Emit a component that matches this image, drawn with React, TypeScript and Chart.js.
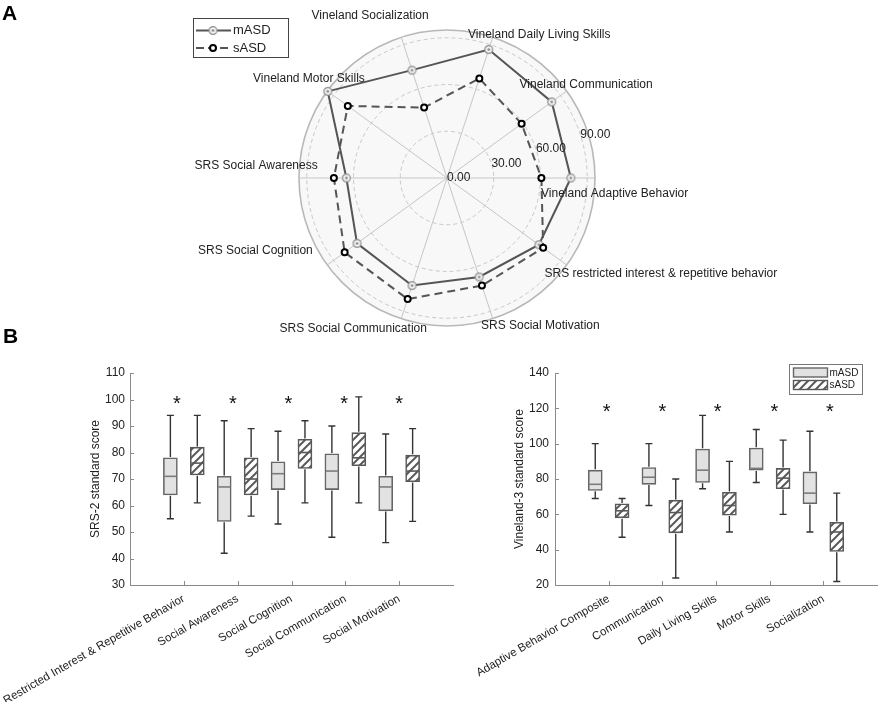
import React, { useEffect, useRef } from 'react';
import { Chart, registerables } from 'chart.js';

Chart.register(...registerables);

const FONT = '"Liberation Sans", Arial, Helvetica, sans-serif';
const TXT = '#222222';
const AXIS = '#8a8a8a';

// ---------- Panel A: radar (clockwise from the right-hand spoke) ----------
const radarAxes = [
  'Vineland Adaptive Behavior',
  'SRS restricted interest & repetitive behavior',
  'SRS Social Motivation',
  'SRS Social Communication',
  'SRS Social Cognition',
  'SRS Social Awareness',
  'Vineland Motor Skills',
  'Vineland Socialization',
  'Vineland Daily Living Skills',
  'Vineland Communication',
];
const radarMASD = [79.5, 72.9, 66.8, 72.6, 71.4, 64.6, 94.6, 72.8, 86.7, 83.1];
const radarSASD = [60.6, 76.3, 72.6, 81.7, 81.2, 72.6, 78.7, 47.5, 67.2, 59.2];
const radarRings = [0, 30, 60, 90];
const radarMax = 95;

// label layout (pixel offsets from the radar centre, text left-aligned)
const radarLabelOffsets = [
  [94, 16], [97.5, 95.5], [34, 148], [-167.5, 151], [-249, 73],
  [-252.5, -12], [-194, -99], [-135.5, -162.5], [21, -143.5], [72.5, -93.5],
];

// ---------- Panel B left: SRS-2 ----------
const srsCategories = [
  'Restricted Interest & Repetitive Behavior',
  'Social Awareness',
  'Social Cognition',
  'Social Communication',
  'Social Motivation',
];
// [min, q1, median, q3, max]
const srsMASD = [
  [55, 64, 71, 78, 94],
  [42, 54, 67, 71, 92],
  [53, 66, 72, 76.5, 88],
  [48, 66, 73, 79.5, 90],
  [46, 58, 67, 71, 87],
];
const srsSASD = [
  [61, 71.5, 76, 82, 94],
  [56, 64, 70, 78, 89],
  [61, 74, 80, 85, 92],
  [61, 75, 78, 87.5, 101],
  [54, 69, 73, 79, 89],
];
const srsSigX = [0.87, 1.91, 2.94, 3.98, 5.0];
const srsSigY = 100;

// ---------- Panel B right: Vineland-3 ----------
const vinCategories = [
  'Adaptive Behavior Composite',
  'Communication',
  'Daily Living Skills',
  'Motor Skills',
  'Socialization',
];
const vinMASD = [
  [69, 73.5, 77, 85, 100],
  [65, 77, 81, 86.5, 100],
  [74.5, 78, 85, 97, 116],
  [78, 85, 86, 97.5, 108],
  [50, 66, 72, 84, 107],
];
const vinSASD = [
  [47, 58, 62, 66, 69],
  [24, 49.5, 61, 68, 80],
  [50, 59.5, 65, 72.5, 90],
  [60, 74.5, 80.5, 86, 102],
  [22, 39, 50, 55.5, 72],
];
const vinSigX = [0.96, 2.0, 3.03, 4.09, 5.12];
const vinSigY = 120;

const GROUP_OFFSET = 0.25;

function makeRingDot(): HTMLCanvasElement {
  const c = document.createElement('canvas');
  c.width = 11;
  c.height = 11;
  const g = c.getContext('2d')!;
  g.beginPath();
  g.arc(5.5, 5.5, 3.9, 0, Math.PI * 2);
  g.fillStyle = '#f4f4f4';
  g.fill();
  g.lineWidth = 1.2;
  g.strokeStyle = '#8c8c8c';
  g.stroke();
  g.beginPath();
  g.arc(5.5, 5.5, 1.2, 0, Math.PI * 2);
  g.fillStyle = '#7a7a7a';
  g.fill();
  return c;
}

function makeHatch(ctx: CanvasRenderingContext2D): CanvasPattern {
  const n = 8;
  const c = document.createElement('canvas');
  c.width = n;
  c.height = n;
  const g = c.getContext('2d')!;
  g.fillStyle = '#ffffff';
  g.fillRect(0, 0, n, n);
  g.strokeStyle = '#5a5a5a';
  g.lineWidth = 2;
  g.beginPath();
  g.moveTo(-1, n + 1);
  g.lineTo(n + 1, -1);
  g.moveTo(-2, 2);
  g.lineTo(2, -2);
  g.moveTo(n - 2, n + 2);
  g.lineTo(n + 2, n - 2);
  g.stroke();
  return ctx.createPattern(c, 'repeat')!;
}

function makeRadar(canvas: HTMLCanvasElement): Chart {
  const ringDot = makeRingDot();
  const extras = {
    id: 'radarExtras',
    beforeDraw(chart: any) {
      const s = chart.scales.r;
      const ctx = chart.ctx;
      ctx.save();
      ctx.beginPath();
      ctx.arc(s.xCenter, s.yCenter, s.drawingArea, 0, Math.PI * 2);
      ctx.fillStyle = '#f8f8f8';
      ctx.fill();
      ctx.restore();
    },
    afterDraw(chart: any) {
      const s = chart.scales.r;
      const ctx = chart.ctx;
      ctx.save();
      ctx.fillStyle = TXT;
      ctx.font = `12px ${FONT}`;
      ctx.textAlign = 'left';
      ctx.textBaseline = 'middle';
      // ring value labels along a ray 18 degrees above the first spoke
      const a = s.getIndexAngle(0) - Math.PI / 2 - Math.PI / 10;
      radarRings.forEach((v) => {
        const d = s.getDistanceFromCenterForValue(v);
        ctx.fillText(v.toFixed(2), s.xCenter + Math.cos(a) * d, s.yCenter + Math.sin(a) * d);
      });
      // axis labels
      radarAxes.forEach((name, i) => {
        const [dx, dy] = radarLabelOffsets[i];
        ctx.fillText(name, s.xCenter + dx, s.yCenter + dy);
      });
      // legend
      const lx = 193.5, ly = 18.5, lw = 95, lh = 39;
      ctx.fillStyle = '#ffffff';
      ctx.fillRect(lx, ly, lw, lh);
      ctx.strokeStyle = '#444';
      ctx.lineWidth = 1;
      ctx.strokeRect(lx, ly, lw, lh);
      const y1 = 30.5, y2 = 48;
      ctx.strokeStyle = '#555';
      ctx.lineWidth = 2;
      ctx.beginPath();
      ctx.moveTo(196, y1);
      ctx.lineTo(231, y1);
      ctx.stroke();
      ctx.drawImage(ringDot, 213 - 5.5, y1 - 5.5);
      ctx.setLineDash([8, 4]);
      ctx.beginPath();
      ctx.moveTo(196, y2);
      ctx.lineTo(232, y2);
      ctx.stroke();
      ctx.setLineDash([]);
      ctx.beginPath();
      ctx.arc(213, y2, 3, 0, Math.PI * 2);
      ctx.fillStyle = '#fff';
      ctx.fill();
      ctx.strokeStyle = '#000';
      ctx.lineWidth = 2;
      ctx.stroke();
      ctx.fillStyle = TXT;
      ctx.font = `13px ${FONT}`;
      ctx.fillText('mASD', 233, y1);
      ctx.fillText('sASD', 233, y2);
      // panel letters
      ctx.font = `bold 21px ${FONT}`;
      ctx.textBaseline = 'alphabetic';
      ctx.fillStyle = '#000';
      ctx.fillText('A', 2, 20);
      ctx.fillText('B', 3, 343);
      ctx.restore();
    },
  };

  return new Chart(canvas, {
    type: 'radar',
    data: {
      labels: radarAxes,
      datasets: [
        {
          label: 'mASD',
          data: radarMASD,
          borderColor: '#555555',
          borderWidth: 2,
          backgroundColor: 'rgba(0,0,0,0)',
          fill: false,
          tension: 0,
          pointStyle: ringDot as any,
          pointRadius: 5,
          order: 1,
        },
        {
          label: 'sASD',
          data: radarSASD,
          borderColor: '#555555',
          borderWidth: 2,
          borderDash: [8, 5],
          backgroundColor: 'rgba(0,0,0,0)',
          fill: false,
          tension: 0,
          pointStyle: 'circle',
          pointRadius: 3,
          pointBorderWidth: 2,
          pointBorderColor: '#000000',
          pointBackgroundColor: '#ffffff',
          order: 0,
        },
      ],
    },
    options: {
      animation: false,
      responsive: false,
      events: [],
      layout: { padding: { left: 299.5, right: 282.5, top: 30.5, bottom: 18.5 } },
      plugins: { legend: { display: false }, tooltip: { enabled: false } },
      scales: {
        r: {
          min: 0,
          max: radarMax,
          startAngle: 90,
          afterBuildTicks: (s: any) => {
            s.ticks = [...radarRings, radarMax].map((v) => ({ value: v }));
          },
          ticks: { display: false },
          pointLabels: { display: false },
          grid: {
            circular: true,
            color: (c: any) => (c.tick && c.tick.value === radarMax ? '#b8b8b8' : '#c8c8c8'),
            lineWidth: (c: any) => (c.tick && c.tick.value === radarMax ? 1.6 : 1),
          },
          border: {
            dash: (c: any) => (c.tick && c.tick.value === radarMax ? [] : [4, 3]),
          },
          angleLines: { color: '#c6c6c6', lineWidth: 1 },
        } as any,
      },
    },
    plugins: [extras],
  } as any);
}

interface BoxCfg {
  cats: string[];
  mild: number[][];
  severe: number[][];
  sigX: number[];
  sigY: number;
  yMin: number;
  yMax: number;
  yStep: number;
  yTitle: string;
  titlePad: number;
  tickPad: number;
  padRight: number;
  yWidth: number;
  legend: boolean;
}

function makeBox(canvas: HTMLCanvasElement, cfg: BoxCfg): Chart {
  const hatch = makeHatch(canvas.getContext('2d')!);
  const all = [cfg.mild, cfg.severe];
  const datasets = all.map((series, d) => ({
    label: d === 0 ? 'mASD' : 'sASD',
    data: series.map((s, i) => ({ x: i + 1 + (d === 0 ? -GROUP_OFFSET : GROUP_OFFSET), y: [s[1], s[3]] })),
    backgroundColor: d === 0 ? '#e2e2e2' : hatch,
    borderColor: d === 0 ? '#666666' : '#585858',
    borderWidth: 1.6,
    borderSkipped: false,
    barThickness: 14,
    grouped: false,
  }));

  const extras = {
    id: 'boxExtras',
    afterDatasetsDraw(chart: any) {
      const ctx = chart.ctx;
      const ys = chart.scales.y;
      const xs = chart.scales.x;
      const area = chart.chartArea;
      ctx.save();
      all.forEach((series, d) => {
        const meta = chart.getDatasetMeta(d);
        series.forEach((st, i) => {
          const el = meta.data[i];
          const cx = el.x;
          const hw = el.width / 2;
          const [mn, q1, md, q3, mx] = st;
          const pMn = ys.getPixelForValue(mn);
          const pQ1 = ys.getPixelForValue(q1);
          const pMd = ys.getPixelForValue(md);
          const pQ3 = ys.getPixelForValue(q3);
          const pMx = ys.getPixelForValue(mx);
          ctx.strokeStyle = '#333333';
          ctx.lineWidth = 1.4;
          ctx.beginPath();
          ctx.moveTo(cx, pQ3 - 0.8);
          ctx.lineTo(cx, pMx);
          ctx.moveTo(cx, pQ1 + 0.8);
          ctx.lineTo(cx, pMn);
          ctx.moveTo(cx - 3.5, pMx);
          ctx.lineTo(cx + 3.5, pMx);
          ctx.moveTo(cx - 3.5, pMn);
          ctx.lineTo(cx + 3.5, pMn);
          ctx.stroke();
          ctx.strokeStyle = d === 0 ? '#7c7c7c' : '#585858';
          ctx.lineWidth = 1.6;
          ctx.beginPath();
          ctx.moveTo(cx - hw + 1, pMd);
          ctx.lineTo(cx + hw - 1, pMd);
          ctx.stroke();
        });
      });
      // significance asterisks
      ctx.fillStyle = '#111';
      ctx.font = `20px ${FONT}`;
      ctx.textAlign = 'center';
      ctx.textBaseline = 'alphabetic';
      const m = ctx.measureText('*');
      const shift = (m.actualBoundingBoxDescent - m.actualBoundingBoxAscent) / 2;
      cfg.sigX.forEach((sx) => {
        ctx.fillText('*', xs.getPixelForValue(sx), ys.getPixelForValue(cfg.sigY) - shift);
      });
      // inward tick marks
      ctx.strokeStyle = AXIS;
      ctx.lineWidth = 1;
      ctx.beginPath();
      ys.ticks.forEach((t: any) => {
        const py = Math.round(ys.getPixelForValue(t.value)) + 0.5;
        ctx.moveTo(area.left, py);
        ctx.lineTo(area.left + 4, py);
      });
      xs.ticks.forEach((t: any) => {
        const px = Math.round(xs.getPixelForValue(t.value)) + 0.5;
        ctx.moveTo(px, area.bottom);
        ctx.lineTo(px, area.bottom - 4);
      });
      ctx.stroke();
      // legend
      if (cfg.legend) {
        const lx = Math.round(area.right - 88) + 0.5;
        const ly = Math.round(area.top - 9) + 0.5;
        ctx.fillStyle = '#fff';
        ctx.fillRect(lx, ly, 73, 30);
        ctx.strokeStyle = '#777';
        ctx.lineWidth = 1;
        ctx.strokeRect(lx, ly, 73, 30);
        const rows = [ly + 3.5, ly + 16];
        rows.forEach((ry, d) => {
          ctx.fillStyle = d === 0 ? '#e2e2e2' : hatch;
          ctx.fillRect(lx + 4, ry, 34, 9);
          ctx.strokeStyle = d === 0 ? '#666' : '#585858';
          ctx.lineWidth = 1.4;
          ctx.strokeRect(lx + 4, ry, 34, 9);
          ctx.fillStyle = TXT;
          ctx.font = `10px ${FONT}`;
          ctx.textAlign = 'left';
          ctx.textBaseline = 'middle';
          ctx.fillText(d === 0 ? 'mASD' : 'sASD', lx + 40, ry + 5);
        });
      }
      ctx.restore();
    },
  };

  return new Chart(canvas, {
    type: 'bar',
    data: { datasets },
    options: {
      animation: false,
      responsive: false,
      events: [],
      layout: { padding: { left: 0, right: cfg.padRight, top: 28, bottom: 0 } },
      plugins: { legend: { display: false }, tooltip: { enabled: false } },
      scales: {
        x: {
          type: 'linear',
          min: 0,
          max: 6,
          offset: false,
          afterBuildTicks: (s: any) => {
            s.ticks = cfg.cats.map((_, i) => ({ value: i + 1 }));
          },
          afterFit: (s: any) => {
            s.height = 117;
            s.paddingLeft = 0;
            s.paddingRight = 0;
          },
          grid: { display: false, drawTicks: false },
          border: { display: true, color: AXIS, width: 1 },
          ticks: {
            autoSkip: false,
            minRotation: 30,
            maxRotation: 30,
            padding: 7,
            color: TXT,
            font: { size: 11.5, family: FONT },
            callback: (v: any) => cfg.cats[Math.round(Number(v)) - 1] ?? '',
          },
        },
        y: {
          min: cfg.yMin,
          max: cfg.yMax,
          afterFit: (s: any) => {
            s.width = cfg.yWidth;
            s.paddingTop = 0;
            s.paddingBottom = 0;
          },
          grid: { display: false, drawTicks: false },
          border: { display: true, color: AXIS, width: 1 },
          ticks: { stepSize: cfg.yStep, padding: cfg.tickPad, color: TXT, font: { size: 12, family: FONT } },
          title: {
            display: true,
            text: cfg.yTitle,
            color: TXT,
            font: { size: 12, family: FONT },
            padding: { top: cfg.titlePad, bottom: 0 },
          },
        },
      },
    },
    plugins: [extras],
  } as any);
}

export default function App() {
  const radarRef = useRef<HTMLCanvasElement>(null);
  const leftRef = useRef<HTMLCanvasElement>(null);
  const rightRef = useRef<HTMLCanvasElement>(null);

  useEffect(() => {
    Chart.defaults.font.family = FONT;
    const charts = [
      makeRadar(radarRef.current!),
      makeBox(leftRef.current!, {
        cats: srsCategories,
        mild: srsMASD,
        severe: srsSASD,
        sigX: srsSigX,
        sigY: srsSigY,
        yMin: 30,
        yMax: 110,
        yStep: 10,
        yTitle: 'SRS-2 standard score',
        titlePad: 88.8,
        tickPad: 5,
        padRight: 7,
        yWidth: 130,
        legend: false,
      }),
      makeBox(rightRef.current!, {
        cats: vinCategories,
        mild: vinMASD,
        severe: vinSASD,
        sigX: vinSigX,
        sigY: vinSigY,
        yMin: 20,
        yMax: 140,
        yStep: 20,
        yTitle: 'Vineland-3 standard score',
        titlePad: 52.8,
        tickPad: 6,
        padRight: 1,
        yWidth: 95,
        legend: true,
      }),
    ];
    return () => charts.forEach((c) => c.destroy());
  }, []);

  return (
    <div style={{ position: 'fixed', left: 0, top: 0, width: 878, height: 702, background: '#fff', overflow: 'hidden' }}>
      <canvas ref={radarRef} width={878} height={345} style={{ position: 'absolute', left: 0, top: 0, width: 878, height: 345 }} />
      <canvas ref={leftRef} width={460} height={357} style={{ position: 'absolute', left: 0, top: 345, width: 460, height: 357 }} />
      <canvas ref={rightRef} width={418} height={357} style={{ position: 'absolute', left: 460, top: 345, width: 418, height: 357 }} />
    </div>
  );
}
